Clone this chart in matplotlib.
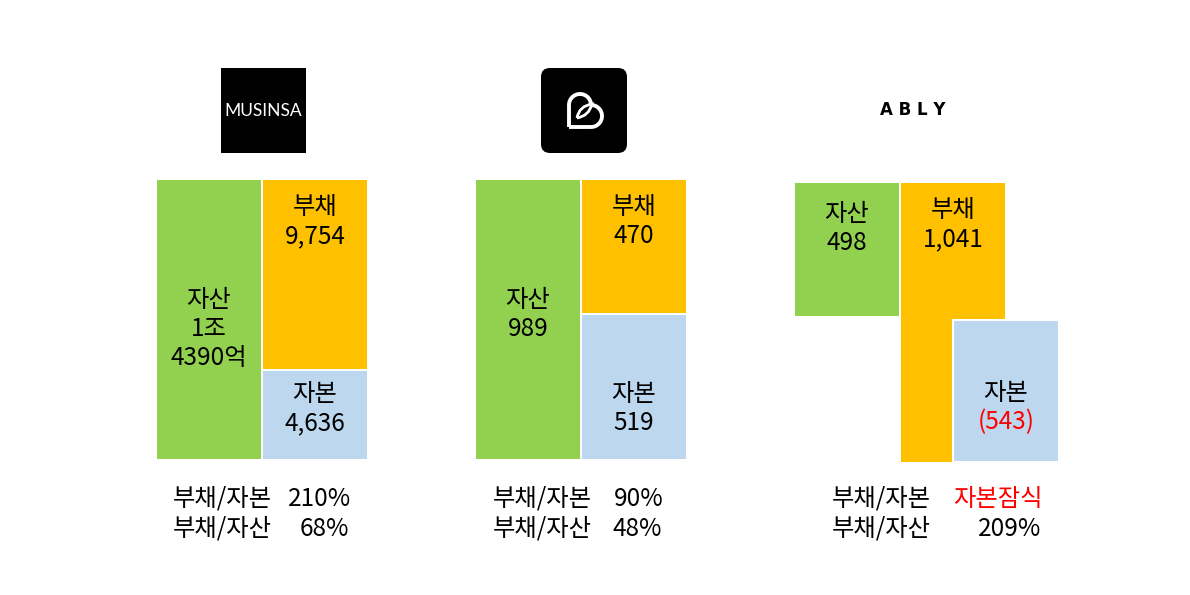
import numpy as np
import matplotlib.pyplot as plt
from matplotlib.patches import Rectangle, FancyBboxPatch, PathPatch
from matplotlib.path import Path

plt.rcParams['font.family'] = ['Noto Sans CJK KR', 'DejaVu Sans']

# data (억원)
assets = [14390, 989, 498]
liabilities = [9754, 470, 1041]
equity = [4636, 519, -543]
asset_labels = [['자산', '1조', '4390억'], ['자산', '989'], ['자산', '498']]
liab_labels = [['부채', '9,754'], ['부채', '470'], ['부채', '1,041']]
equity_labels = [['자본', '4,636'], ['자본', '519'], ['자본', '(543)']]
debt_equity = ['210%', '90%', '자본잠식']
debt_asset = ['68%', '48%', '209%']

c_asset = '#92D050'
c_liab = '#FFC000'
c_eq = '#BDD7EE'

fig = plt.figure(figsize=(11.9, 5.95), dpi=100)
ax = fig.add_axes([0, 0, 1, 1])
ax.set_xlim(0, 1190)
ax.set_ylim(595, 0)
ax.axis('off')

left = [157, 476, 795]
top = [180, 180, 183]
H = 279
W = 104
gap = 2
pitch = 29
fs = 17.5
dy = 2  # text baseline nudge

def lines(x, y0, txts, colors=None):
    for k, t in enumerate(txts):
        col = 'black' if colors is None else colors[k]
        ax.text(x, y0 + dy + k*pitch, t, ha='center', va='center', fontsize=fs, color=col)

for i in range(3):
    x0 = left[i]
    y0 = top[i]
    scale = H / max(assets[i], liabilities[i])
    a_h = assets[i]*scale
    l_h = liabilities[i]*scale
    e_h = abs(equity[i])*scale
    xl = x0 + W + gap

    ax.add_patch(Rectangle((x0, y0), W, a_h, color=c_asset, lw=0))
    ax.add_patch(Rectangle((xl, y0), W, l_h, color=c_liab, lw=0))
    lines(xl + W/2, y0 + 25, liab_labels[i])

    if a_h >= l_h:
        lines(x0 + W/2, y0 + 118, asset_labels[i])
    else:
        lines(x0 + W/2, y0 + 29, asset_labels[i])

    if equity[i] >= 0:
        ax.add_patch(Rectangle((xl, y0 + l_h + gap), W, e_h - gap, color=c_eq, lw=0))
        lines(xl + W/2, y0 + H - 67, equity_labels[i])
    else:
        xe = xl + W/2
        ye = y0 + H - e_h + 2*gap
        ax.add_patch(Rectangle((xe, ye), W + 2, y0 + H - ye, facecolor=c_eq,
                               edgecolor='white', lw=1.5))
        lines(xe + (W + 2)/2, y0 + H - 71, equity_labels[i], colors=['black', 'red'])

# ratios
lx = [173, 493, 832]
rx = [351, 664, 1043]
for i in range(3):
    ax.text(lx[i], 497 + dy, '부채/자본', ha='left', va='center', fontsize=fs)
    ax.text(lx[i], 527 + dy, '부채/자산', ha='left', va='center', fontsize=fs)
    col = 'red' if debt_equity[i] == '자본잠식' else 'black'
    ax.text(rx[i], 497 + dy, debt_equity[i], ha='right', va='center', fontsize=fs, color=col)
    ax.text(rx[i] - 2, 527 + dy, debt_asset[i], ha='right', va='center', fontsize=fs)

# logos
ax.add_patch(Rectangle((221, 68), 85, 85, color='black', lw=0))
ax.text(263.5, 111, 'MUSINSA', color='white', fontsize=12.5, family='Lato',
        ha='center', va='center')

ax.add_patch(FancyBboxPatch((541, 68), 86, 85, boxstyle='round,pad=0,rounding_size=9',
                            color='black', lw=0))
a = 22
bx, by = 569, 127
th = np.linspace(np.pi, 0, 40)
top_lobe = np.column_stack([bx + a/2 + a/2*np.cos(th), by - a - a/2*np.sin(th)])
ph = np.linspace(0, np.pi, 40)
right_lobe = np.column_stack([bx + a + a/2*np.sin(ph), by - a/2 - a/2*np.cos(ph)])
pts = np.vstack([[bx, by], [bx, by - a], top_lobe, right_lobe, [bx, by]])
ax.add_patch(PathPatch(Path(pts), facecolor='none', edgecolor='white', lw=2.8,
                       joinstyle='round'))
p1 = (577, 118)
p2 = (592, 104)
leaf = Path([p1, (589, 116), p2, (579, 106), p1],
            [Path.MOVETO, Path.CURVE3, Path.CURVE3, Path.CURVE3, Path.CURVE3])
ax.add_patch(PathPatch(leaf, facecolor='none', edgecolor='white', lw=2))

ax.text(913, 110, 'A B L Y', fontsize=12, family='DejaVu Sans', weight='bold',
        ha='center', va='center')

fig.savefig('out.png', dpi=100)
